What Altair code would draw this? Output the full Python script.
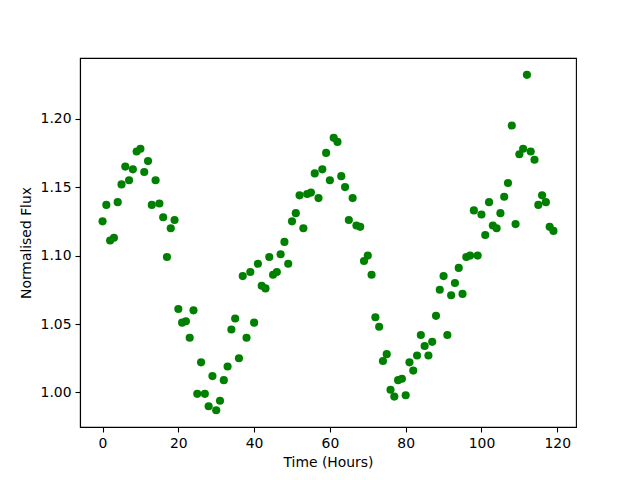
import altair as alt
import pandas as pd

time_hours = [
    0, 1, 2, 3, 4, 5, 6, 7, 8, 9,
    10, 11, 12, 13, 14, 15, 16, 17, 18, 19,
    20, 21, 22, 23, 24, 25, 26, 27, 28, 29,
    30, 31, 32, 33, 34, 35, 36, 37, 38, 39,
    40, 41, 42, 43, 44, 45, 46, 47, 48, 49,
    50, 51, 52, 53, 54, 55, 56, 57, 58, 59,
    60, 61, 62, 63, 64, 65, 66, 67, 68, 69,
    70, 71, 72, 73, 74, 75, 76, 77, 78, 79,
    80, 81, 82, 83, 84, 85, 86, 87, 88, 89,
    90, 91, 92, 93, 94, 95, 96, 97, 98, 99,
    100, 101, 102, 103, 104, 105, 106, 107, 108, 109,
    110, 111, 112, 113, 114, 115, 116, 117, 118, 119,
]

flux = [
    1.125, 1.137, 1.111, 1.113, 1.139, 1.152, 1.165, 1.155, 1.163, 1.176,
    1.178, 1.161, 1.169, 1.137, 1.155, 1.138, 1.128, 1.099, 1.120, 1.126,
    1.061, 1.051, 1.052, 1.040, 1.060, 0.999, 1.022, 0.999, 0.990, 1.012,
    0.987, 0.994, 1.009, 1.019, 1.046, 1.054, 1.025, 1.085, 1.040, 1.088,
    1.051, 1.094, 1.078, 1.076, 1.099, 1.086, 1.088, 1.101, 1.110, 1.094,
    1.125, 1.131, 1.144, 1.120, 1.145, 1.146, 1.160, 1.142, 1.163, 1.175,
    1.155, 1.186, 1.183, 1.158, 1.150, 1.126, 1.142, 1.122, 1.121, 1.096,
    1.100, 1.086, 1.055, 1.048, 1.023, 1.028, 1.002, 0.997, 1.009, 1.010,
    0.998, 1.022, 1.016, 1.027, 1.042, 1.034, 1.027, 1.037, 1.056, 1.075,
    1.085, 1.042, 1.071, 1.080, 1.091, 1.072, 1.099, 1.100, 1.133, 1.100,
    1.130, 1.115, 1.139, 1.122, 1.120, 1.131, 1.143, 1.153, 1.195, 1.123,
    1.174, 1.178, 1.232, 1.176, 1.170, 1.137, 1.144, 1.139, 1.121, 1.118,
]

x_ticks = [0, 20, 40, 60, 80, 100, 120]
y_ticks = [1.00, 1.05, 1.10, 1.15, 1.20]
x_domain = [-5.95, 124.95]
y_domain = [0.9748, 1.2443]

df = pd.DataFrame({"time": time_hours, "flux": flux})

font = "DejaVu Sans"

chart = (
    alt.Chart(df)
    .mark_circle(color="#008000", size=66, opacity=1)
    .encode(
        x=alt.X(
            "time:Q",
            scale=alt.Scale(domain=x_domain, nice=False, zero=False),
            axis=alt.Axis(values=x_ticks, format="d", title="Time (Hours)"),
        ),
        y=alt.Y(
            "flux:Q",
            scale=alt.Scale(domain=y_domain, nice=False, zero=False),
            axis=alt.Axis(values=y_ticks, format=".2f", title="Normalised Flux"),
        ),
    )
    .properties(
        width=496,
        height=369,
        autosize=alt.AutoSizeParams(type="none"),
        padding={"left": 72, "top": 50, "right": 56, "bottom": 45},
    )
    .configure_view(stroke="black", strokeWidth=1.1)
    .configure_axis(
        grid=False,
        domainColor="black",
        domainWidth=1.1,
        tickColor="black",
        tickWidth=1.1,
        tickSize=5,
        labelFont=font,
        labelFontSize=13.9,
        labelColor="black",
        labelPadding=4,
        titleFont=font,
        titleFontSize=13.9,
        titleFontWeight="normal",
        titleColor="black",
    )
    .configure_axisX(titlePadding=6)
    .configure_axisY(titlePadding=7)
)

chart.save("out.html", embed_options={"renderer": "svg", "actions": False})
